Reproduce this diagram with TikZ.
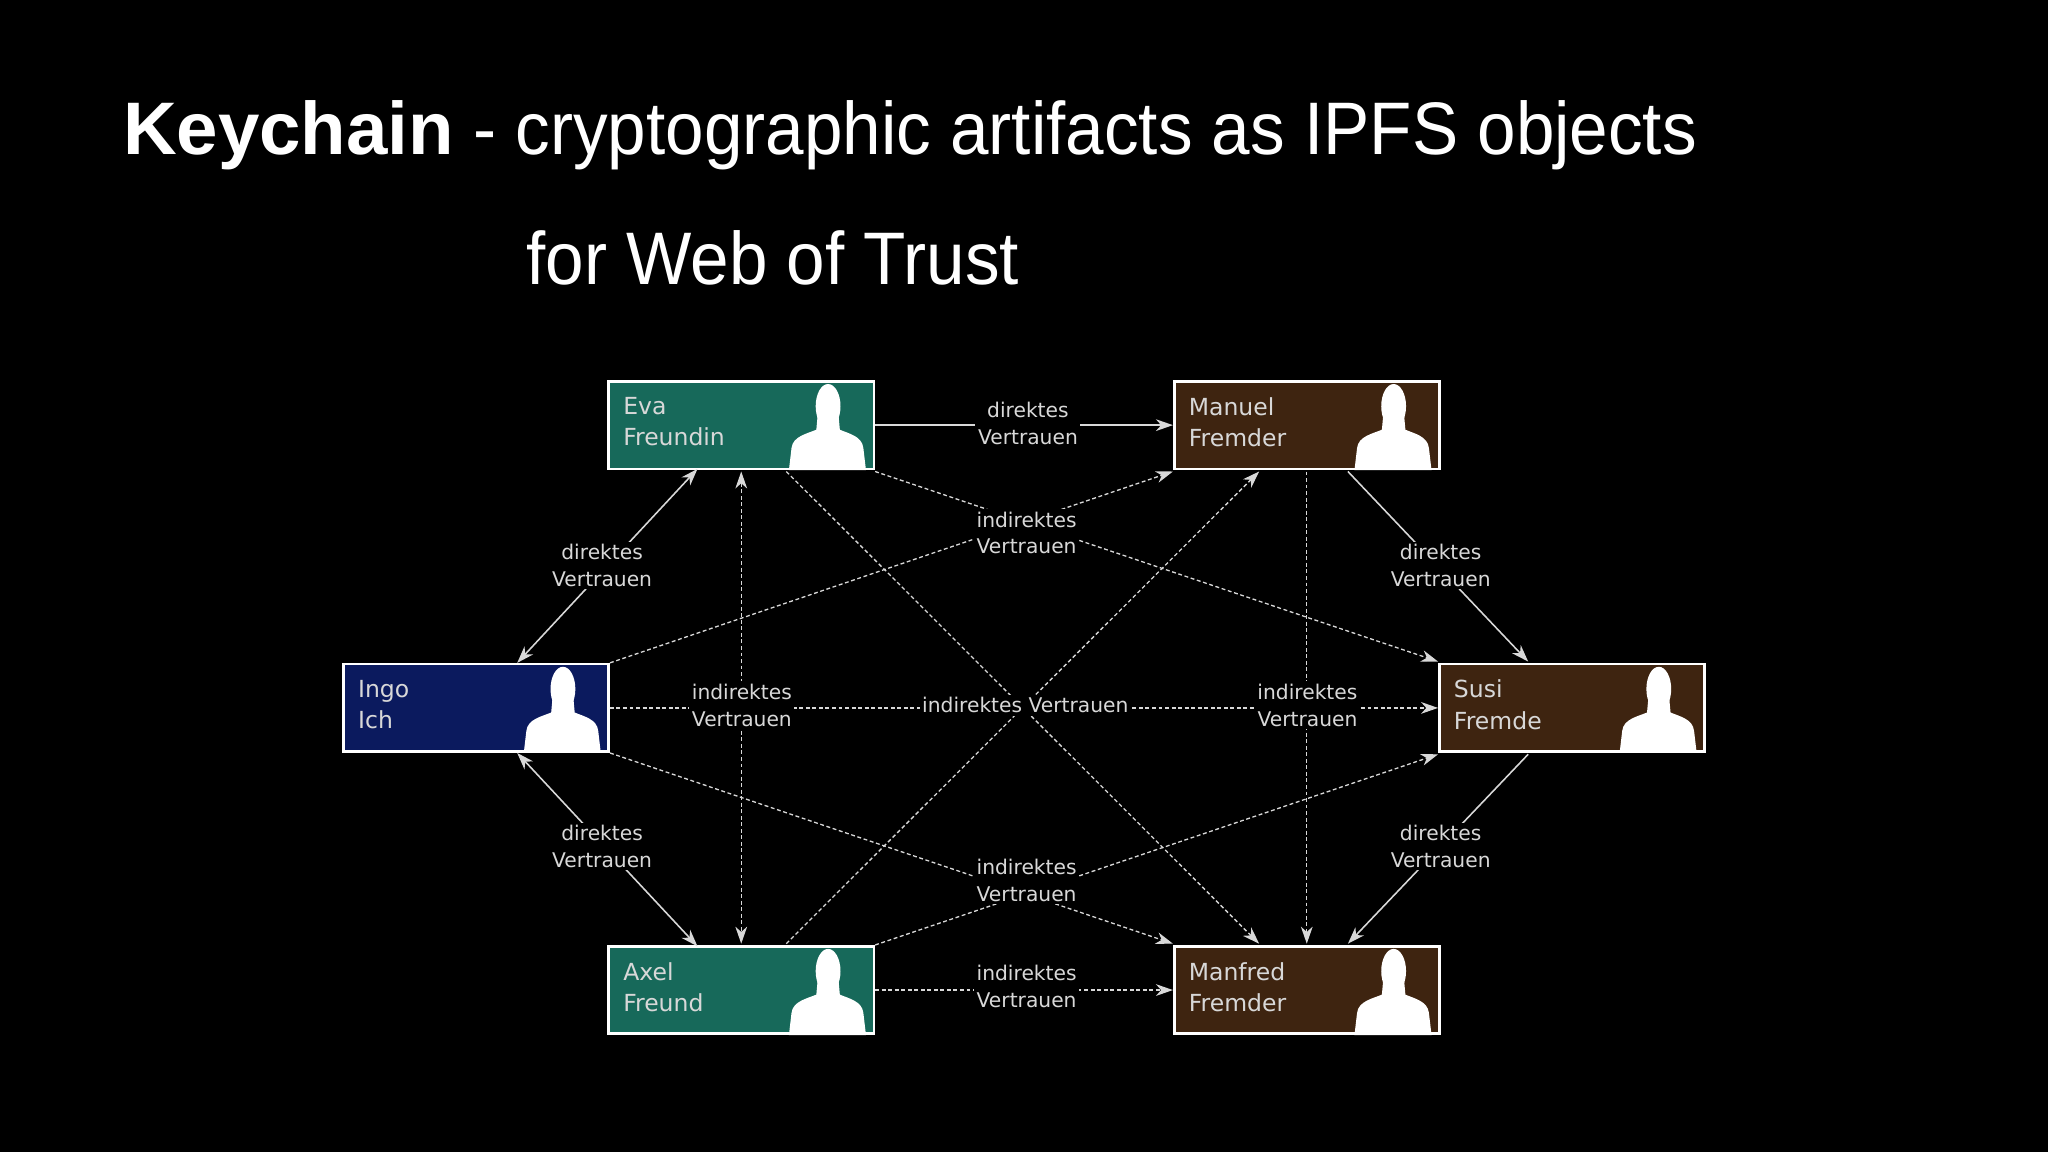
\documentclass[tikz,border=0pt]{standalone}
\usepackage{fontspec}
\setmainfont{Liberation Sans}
\newfontfamily\dejavu{DejaVu Sans}
\newfontfamily\titlefont[FakeStretch=0.93]{Liberation Sans}
\usetikzlibrary{arrows.meta,calc}
\definecolor{cteal}{HTML}{17695A}
\definecolor{cnavy}{HTML}{0B1A5E}
\definecolor{cbrown}{HTML}{3E2410}
\definecolor{ctxt}{HTML}{D8D8D8}
\tikzset{
  box/.style={draw=white,line width=2pt,minimum width=203pt,minimum height=67pt,inner sep=0pt},
  nm/.style={anchor=north west,align=left,text=ctxt,font=\dejavu\fontsize{18}{24}\selectfont,inner sep=0pt},
  lbl/.style={fill=black,text=ctxt,align=center,font=\dejavu\fontsize{15.5}{20.5}\selectfont,inner sep=2pt},
  con/.style={draw=ctxt,line width=1.2pt},
  dsh/.style={draw=ctxt,line width=1pt,dash pattern=on 3pt off 2pt},
  tip/.style={-{Stealth[length=13pt,width=9pt,inset=4pt]}},
  tips/.style={{Stealth[length=13pt,width=9pt,inset=4pt]}-{Stealth[length=13pt,width=9pt,inset=4pt]}},
}
\newcommand{\personbox}[6]{%
  \node[box,fill=#4] (#1) at (#2,#3) {};
  \node[nm] at ($(#1.north west)+(12,13)$) {#5\\#6};
  \begin{scope}[shift={(#1.south east)}]
    \fill[white] (-66,0) -- (-64,-17) .. controls (-63,-26) and (-52,-28) .. (-45,-31) -- (-44,-42) -- (-28,-42) -- (-27,-31) .. controls (-20,-28) and (-10,-26) .. (-9,-17) -- (-7,0) -- cycle;
    \fill[white] (-36,-49) ellipse [x radius=9.5,y radius=17];
  \end{scope}}
\begin{document}
\begin{tikzpicture}[x=1pt,y=-1pt]
\fill[black] (0,0) rectangle (1568,882);
\useasboundingbox (0,0) rectangle (1568,882);
\node[anchor=base west,text=white,inner sep=0pt,font=\titlefont\fontsize{57}{57}\selectfont] (t1) at (94,118) {{\setmainfont{Liberation Sans}\bfseries\fontsize{57}{57}\selectfont Keychain} - cryptographic artifacts as IPFS objects};
\node[anchor=base west,text=white,inner sep=0pt,font=\titlefont\fontsize{57}{57}\selectfont] (t2) at (403,218) {for Web of Trust};

\personbox{eva}{567.5}{325.5}{cteal}{Eva}{Freundin}
\personbox{manuel}{1000.5}{325.5}{cbrown}{Manuel}{Fremder}
\personbox{ingo}{364.5}{542}{cnavy}{Ingo}{Ich}
\personbox{susi}{1203.5}{542}{cbrown}{Susi}{Fremde}
\personbox{axel}{567.5}{758}{cteal}{Axel}{Freund}
\personbox{manfred}{1000.5}{758}{cbrown}{Manfred}{Fremder}

% solid
\draw[con,tip] (eva.east) -- (manuel.west);
\draw[con,tips] ($(ingo.north west)+(134,0)$) -- ($(eva.south west)+(69,-1)$);
\draw[con,tips] ($(ingo.south west)+(134,0)$) -- ($(axel.north west)+(69,1)$);
\draw[con,tip] ($(manuel.south west)+(134,1)$) -- ($(susi.north west)+(69,-1)$);
\draw[con,tip] ($(susi.south west)+(69,1)$) -- ($(manfred.north west)+(134,-1)$);
% dashed
\draw[dsh,tip] (axel.east) -- (manfred.west);
\draw[dsh,tip] (ingo.east) -- (susi.west);
\draw[dsh,tips] ($(eva.south)+(0,1)$) -- ($(axel.north)+(0,-1)$);
\draw[dsh,tip] ($(manuel.south)+(0,1)$) -- ($(manfred.north)+(0,-1)$);
\draw[dsh,tip] ($(eva.south east)+(0,1)$) -- ($(susi.north west)+(0,-1)$);
\draw[dsh,tip] (ingo.north east) -- ($(manuel.south west)+(0,1)$);
\draw[dsh,tip] (ingo.south east) -- ($(manfred.north west)+(0,-1)$);
\draw[dsh,tip] (axel.north east) -- ($(susi.south west)+(0,1)$);
\draw[dsh,tip] ($(eva.south west)+(137,1)$) -- ($(manfred.north west)+(66,-1)$);
\draw[dsh,tip] ($(axel.north west)+(137,-1)$) -- ($(manuel.south west)+(66,1)$);

% labels
\node[lbl] (l1) at (787,324) {direktes\\Vertrauen};
\node[lbl] (l2) at (461,433) {direktes\\Vertrauen};
\node[lbl] (l3) at (461,648) {direktes\\Vertrauen};
\node[lbl] (l4) at (1103,433) {direktes\\Vertrauen};
\node[lbl] (l5) at (1103,648) {direktes\\Vertrauen};
\node[lbl] (l6) at (786,755) {indirektes\\Vertrauen};
\node[lbl] (l7) at (568,540) {indirektes\\Vertrauen};
\node[lbl] (l8) at (1001,540) {indirektes\\Vertrauen};
\node[lbl] (l9) at (785,540) {indirektes Vertrauen};
\node[lbl] (l10) at (786,408) {indirektes\\Vertrauen};
\node[lbl] (l11) at (786,674) {indirektes\\Vertrauen};
\end{tikzpicture}
\end{document}
